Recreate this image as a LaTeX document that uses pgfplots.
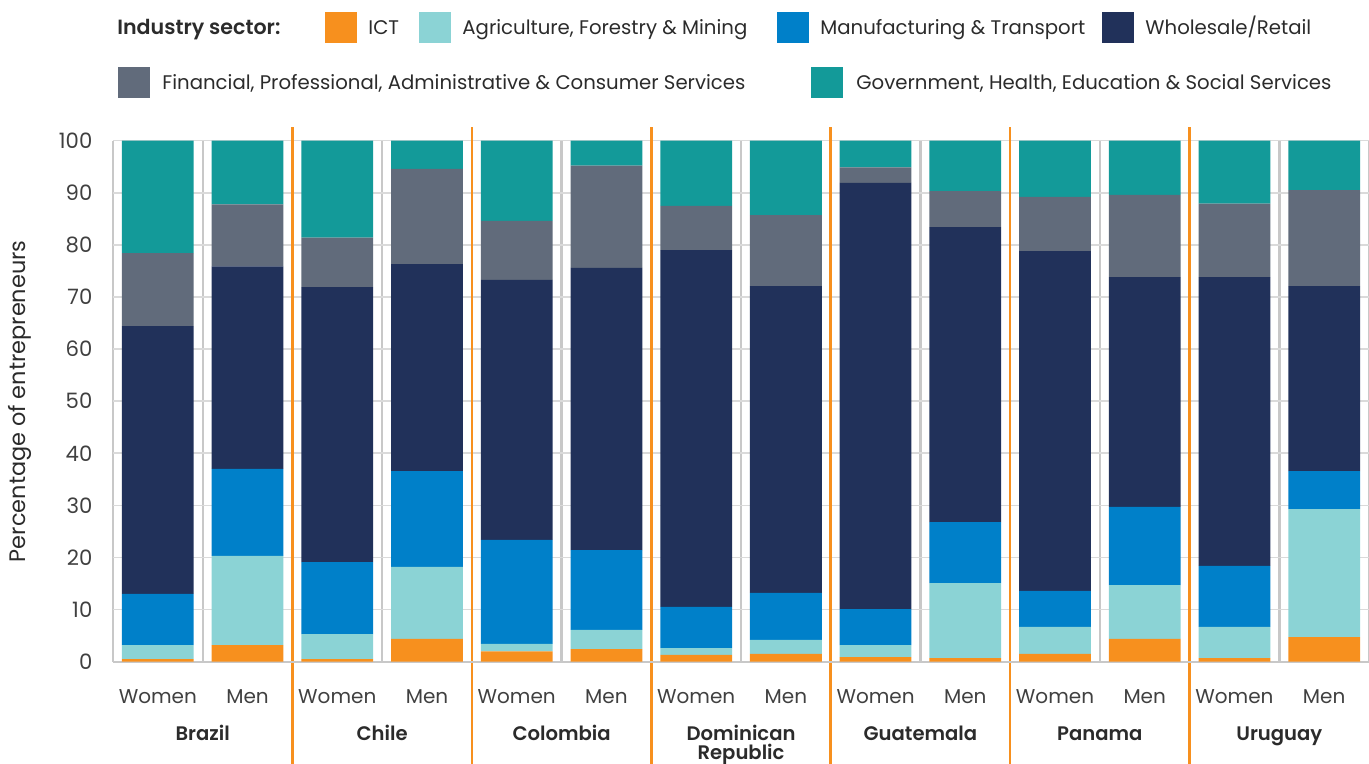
\documentclass[border=0pt]{standalone}
\usepackage{fontspec}
\setmainfont{Poppins}[BoldFont={Poppins SemiBold}]
\usepackage{pgfplots}
\pgfplotsset{compat=1.18}
\usepackage{pgfplotstable}

\definecolor{cICT}{HTML}{F7901E}
\definecolor{cAgri}{HTML}{8BD3D5}
\definecolor{cMan}{HTML}{0080C9}
\definecolor{cWhole}{HTML}{21315A}
\definecolor{cFin}{HTML}{616B7B}
\definecolor{cGov}{HTML}{139A99}
\definecolor{txt}{HTML}{2B2B2B}
\definecolor{tick}{HTML}{404040}
\definecolor{gridh}{HTML}{DADADA}
\definecolor{gridv}{HTML}{C8C8C8}

\pgfplotstableread{
x ict agri man whole fin gov
0 0.5 2.7 9.8 51.4 14.0 21.6
1 3.2 17.1 16.7 38.9 11.9 12.2
2 0.5 4.8 13.8 52.8 9.5 18.6
3 4.4 13.8 18.4 39.7 18.3 5.4
4 2.0 1.4 20.0 49.9 11.3 15.4
5 2.4 3.7 15.3 54.2 19.6 4.8
6 1.3 1.3 7.9 68.5 8.5 12.5
7 1.5 2.7 9.0 58.9 13.6 14.3
8 0.9 2.3 6.9 81.8 3.0 5.1
9 0.7 14.4 11.7 56.6 6.9 9.7
10 1.5 5.2 6.9 65.2 10.4 10.8
11 4.4 10.3 15.0 44.1 15.8 10.4
12 0.7 6.0 11.7 55.4 14.1 12.1
13 4.7 24.6 7.3 35.5 18.4 9.5
}\datatable

\begin{document}
\begin{tikzpicture}
\path[use as bounding box] (-56.5pt,-51.15pt) rectangle (628pt,330.85pt);
\begin{axis}[
  scale only axis, width=628pt, height=260.5pt,
  xmin=-0.5, xmax=13.5, ymin=0, ymax=100,
  ybar stacked, bar width=0.8,
  clip=false,
  axis line style={draw=none},
  major tick length=0pt, minor tick length=0pt,
  xtick={0,...,13},
  xticklabels={Women,Men,Women,Men,Women,Men,Women,Men,Women,Men,Women,Men,Women,Men},
  minor xtick={-0.5,0.5,...,13.5},
  xminorgrids,
  minor x grid style={draw=gridv, line width=1.2pt},
  ytick={0,10,...,100},
  ymajorgrids,
  major y grid style={draw=gridh, line width=0.8pt},
  /pgf/number format/assume math mode=true,
  tick label style={font=\fontsize{10}{12}\selectfont, text=tick},
  xticklabel style={anchor=base, yshift=-20.9pt},
  yticklabel style={anchor=east, xshift=-6.8pt, font=\fontsize{10.6}{12}\selectfont},
  extra x ticks={0.5,2.5,4.5,6.5,8.5,10.5,12.5},
  extra x tick labels={Brazil,Chile,Colombia,{\begin{tabular}[t]{@{}c@{}}Dominican\\[-1.5pt]Republic\end{tabular}},Guatemala,Panama,Uruguay},
  extra x tick style={xmajorgrids=false, xticklabel style={font=\fontsize{9.8}{11}\selectfont\bfseries, text=txt, anchor=base, yshift=-18.6pt}},
  ylabel={Percentage of entrepreneurs},
  ylabel style={at={(axis description cs:-0.074,0.5)}, anchor=center, font=\fontsize{11.2}{13}\selectfont, text=txt},
]
\addplot[fill=cICT, draw=none] table[x=x, y=ict] {\datatable};
\addplot[fill=cAgri, draw=none] table[x=x, y=agri] {\datatable};
\addplot[fill=cMan, draw=none] table[x=x, y=man] {\datatable};
\addplot[fill=cWhole, draw=none] table[x=x, y=whole] {\datatable};
\addplot[fill=cFin, draw=none] table[x=x, y=fin] {\datatable};
\addplot[fill=cGov, draw=none] table[x=x, y=gov] {\datatable};
\draw[gridv, line width=1pt] (axis cs:-0.5,0) -- (axis cs:13.5,0);
\draw[cICT, line width=1.3pt] (axis cs:1.5,102.6) -- (axis cs:1.5,-20);
\draw[cICT, line width=1.3pt] (axis cs:3.5,102.6) -- (axis cs:3.5,-20);
\draw[cICT, line width=1.3pt] (axis cs:5.5,102.6) -- (axis cs:5.5,-20);
\draw[cICT, line width=1.3pt] (axis cs:7.5,102.6) -- (axis cs:7.5,-20);
\draw[cICT, line width=1.3pt] (axis cs:9.5,102.6) -- (axis cs:9.5,-20);
\draw[cICT, line width=1.3pt] (axis cs:11.5,102.6) -- (axis cs:11.5,-20);
\end{axis}
\begin{scope}[shift={(-56.5pt,330.85pt)}, x=0.5pt, y=-0.5pt, every node/.style={inner sep=0pt, text=txt, font=\fontsize{9.85}{12}\selectfont}]
  \node[anchor=base west, font=\fontsize{10.3}{12}\selectfont\bfseries] at (117,35) {Industry sector:};
  \fill[cICT] (325,12) rectangle (357,43);
  \node[anchor=base west] at (368,35) {ICT};
  \fill[cAgri] (419,12) rectangle (451,43);
  \node[anchor=base west] at (462,35) {Agriculture, Forestry \& Mining};
  \fill[cMan] (777,12) rectangle (809,43);
  \node[anchor=base west] at (820,35) {Manufacturing \& Transport};
  \fill[cWhole] (1102,12) rectangle (1134,43);
  \node[anchor=base west] at (1145,35) {Wholesale/Retail};
  \fill[cFin] (118,67) rectangle (150,98);
  \node[anchor=base west] at (162,90) {Financial, Professional, Administrative \& Consumer Services};
  \fill[cGov] (811,67) rectangle (843,98);
  \node[anchor=base west] at (856,90) {Government, Health, Education \& Social Services};
\end{scope}
\end{tikzpicture}
\end{document}
